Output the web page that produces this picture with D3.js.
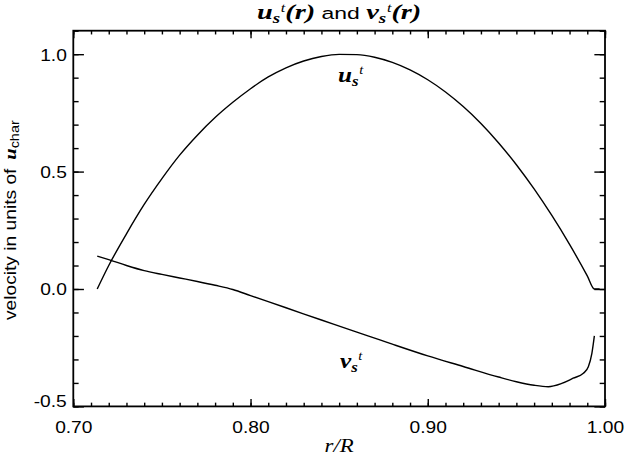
<!DOCTYPE html>
<html>
<head>
<meta charset="utf-8">
<script src="https://cdn.jsdelivr.net/npm/d3@7"></script>
<style>
    body { margin: 0; background: #ffffff; }
    svg { display: block; }
    .sans { font-family: "Liberation Sans", Arial, Helvetica, sans-serif; }
    .serif { font-family: "Liberation Serif", "Times New Roman", serif; }
</style>
</head>
<body>
<div id="plot"></div>
<script>
// radius (r/R) and u_s^t values
const rU = [0.7135, 0.72, 0.73, 0.74, 0.75, 0.76, 0.77, 0.78, 0.79, 0.80,
    0.81, 0.82, 0.83, 0.84, 0.85, 0.86, 0.87, 0.88, 0.89, 0.90,
    0.91, 0.92, 0.93, 0.94, 0.95, 0.96, 0.97, 0.98, 0.99, 0.994, 0.997];
const uVals = [0.00, 0.10, 0.235, 0.36, 0.47, 0.57, 0.655, 0.73, 0.795, 0.853,
    0.903, 0.942, 0.971, 0.990, 0.999, 0.998, 0.987, 0.965, 0.933, 0.891,
    0.839, 0.777, 0.705, 0.622, 0.529, 0.426, 0.313, 0.19, 0.056, 0.0, 0.0];

// radius (r/R) and v_s^t values
const rV = [0.7135, 0.72, 0.73, 0.74, 0.75, 0.76, 0.77, 0.78, 0.79, 0.80,
    0.82, 0.84, 0.86, 0.873, 0.88, 0.90, 0.92, 0.94, 0.95, 0.96,
    0.968, 0.9756, 0.982, 0.9878, 0.9906, 0.9926, 0.994];
const vVals = [0.14, 0.125, 0.10, 0.078, 0.062, 0.047, 0.032, 0.016, -0.002, -0.028,
    -0.08, -0.132, -0.184, -0.217, -0.235, -0.285, -0.33, -0.375, -0.395, -0.41,
    -0.416, -0.402, -0.38, -0.359, -0.331, -0.274, -0.20];

const xMajor = [0.70, 0.80, 0.90, 1.00];
const xTickLabels = ["0.70", "0.80", "0.90", "1.00"];
const yMajor = [-0.5, 0.0, 0.5, 1.0];
const yTickLabels = ["-0.5", "0.0", "0.5", "1.0"];

const width = 625;
const height = 457;
const plotLeft = 73.3, plotRight = 605, plotTop = 30.7, plotBottom = 406.4;
const stretch = 1.2; // PostScript fonts render wider than Liberation

const svg = d3.select("#plot")
    .append("svg")
    .attr("width", width)
    .attr("height", height);

const x = d3.scaleLinear().domain([0.70, 1.00]).range([plotLeft, plotRight]);
const y = d3.scaleLinear().domain([-0.5, 1.1]).range([plotBottom, plotTop]);

const xMinor = x.ticks(30);
const yMinor = y.ticks(16);

const xTickLen = 0.02 * (plotBottom - plotTop);
const yTickLen = 0.02 * (plotRight - plotLeft);

function styleAxis(g) {
    g.select(".domain").remove();
    g.selectAll("line").attr("stroke", "#000").attr("stroke-width", 1.4);
}

// bottom axis
svg.append("g")
    .attr("transform", `translate(0,${plotBottom})`)
    .call(d3.axisBottom(x).tickValues(xMinor).tickSize(-xTickLen / 2).tickFormat(""))
    .call(styleAxis);
svg.append("g")
    .attr("transform", `translate(0,${plotBottom})`)
    .call(d3.axisBottom(x).tickValues(xMajor).tickSize(-xTickLen)
        .tickFormat((d, i) => xTickLabels[i]))
    .call(styleAxis)
    .call(g => g.selectAll("text")
        .attr("class", "sans")
        .attr("fill", "#000")
        .attr("font-size", 16)
        .attr("y", 0)
        .attr("dy", 0)
        .attr("transform", `translate(0,27) scale(${stretch},1)`));

// top axis
svg.append("g")
    .attr("transform", `translate(0,${plotTop})`)
    .call(d3.axisTop(x).tickValues(xMinor).tickSize(-xTickLen / 2).tickFormat(""))
    .call(styleAxis);
svg.append("g")
    .attr("transform", `translate(0,${plotTop})`)
    .call(d3.axisTop(x).tickValues(xMajor).tickSize(-xTickLen).tickFormat(""))
    .call(styleAxis);

// left axis
svg.append("g")
    .attr("transform", `translate(${plotLeft},0)`)
    .call(d3.axisLeft(y).tickValues(yMinor).tickSize(-yTickLen / 2).tickFormat(""))
    .call(styleAxis);
svg.append("g")
    .attr("transform", `translate(${plotLeft},0)`)
    .call(d3.axisLeft(y).tickValues(yMajor).tickSize(-yTickLen)
        .tickFormat((d, i) => yTickLabels[i]))
    .call(styleAxis)
    .call(g => g.selectAll("text")
        .attr("class", "sans")
        .attr("fill", "#000")
        .attr("font-size", 16)
        .attr("x", 0)
        .attr("dy", 0)
        .attr("text-anchor", "end")
        // lowest label is lifted so it stays inside the frame
        .attr("transform", d => `translate(-6.5,${y(d) === plotBottom ? 0 : 6}) scale(${stretch},1)`));

// right axis
svg.append("g")
    .attr("transform", `translate(${plotRight},0)`)
    .call(d3.axisRight(y).tickValues(yMinor).tickSize(-yTickLen / 2).tickFormat(""))
    .call(styleAxis);
svg.append("g")
    .attr("transform", `translate(${plotRight},0)`)
    .call(d3.axisRight(y).tickValues(yMajor).tickSize(-yTickLen).tickFormat(""))
    .call(styleAxis);

// frame
svg.append("rect")
    .attr("x", plotLeft)
    .attr("y", plotTop)
    .attr("width", plotRight - plotLeft)
    .attr("height", plotBottom - plotTop)
    .attr("fill", "none")
    .attr("stroke", "#000")
    .attr("stroke-width", 1.8);

// curves
const line = d3.line()
    .x(d => x(d[0]))
    .y(d => y(d[1]))
    .curve(d3.curveMonotoneX);

svg.append("path")
    .datum(rU.map((r, i) => [r, uVals[i]]))
    .attr("d", line)
    .attr("fill", "none")
    .attr("stroke", "#000")
    .attr("stroke-width", 1.4);

svg.append("path")
    .datum(rV.map((r, i) => [r, vVals[i]]))
    .attr("d", line)
    .attr("fill", "none")
    .attr("stroke", "#000")
    .attr("stroke-width", 1.4);

// u_s^t style label: big bold-italic letter, subscript s, superscript t
function symbolSpans(t, letter, big, supDy) {
    t.append("tspan").attr("class", "serif").attr("font-weight", "bold")
        .attr("font-style", "italic").attr("font-size", big).text(letter);
    t.append("tspan").attr("class", "serif").attr("font-weight", "bold")
        .attr("font-style", "italic").attr("font-size", 14).attr("dy", 4).text("s");
    t.append("tspan").attr("class", "serif").attr("font-style", "italic")
        .attr("font-size", 12).attr("dx", 0.5).attr("dy", supDy).text("t");
}

function label(xPos, yPos, letter) {
    const t = svg.append("text")
        .attr("transform", `translate(${xPos},${yPos}) scale(${stretch},1)`)
        .attr("fill", "#000");
    symbolSpans(t, letter, 21, -12);
}

label(338, 82, "u");
label(340, 368, "v");

// title
const title = svg.append("text")
    .attr("transform", `translate(${(plotLeft + plotRight) / 2},18.5) scale(1.35,1)`)
    .attr("text-anchor", "middle")
    .attr("fill", "#000");
symbolSpans(title, "u", 21, -11);
title.append("tspan").attr("class", "serif").attr("font-weight", "bold")
    .attr("font-style", "italic").attr("font-size", 21).attr("dy", 7).text("(r)");
title.append("tspan").attr("class", "sans").attr("font-size", 17).text(" and ");
symbolSpans(title, "v", 21, -11);
title.append("tspan").attr("class", "serif").attr("font-weight", "bold")
    .attr("font-style", "italic").attr("font-size", 21).attr("dy", 7).text("(r)");

// x axis title
svg.append("text")
    .attr("transform", `translate(${(plotLeft + plotRight) / 2},452) scale(${stretch},1)`)
    .attr("text-anchor", "middle")
    .attr("class", "serif")
    .attr("font-style", "italic")
    .attr("font-size", 19)
    .attr("fill", "#000")
    .text("r/R");

// y axis title
const yTitle = svg.append("text")
    .attr("transform", `translate(15.5,320) rotate(-90) scale(${stretch},1)`)
    .attr("fill", "#000");
yTitle.append("tspan").attr("class", "sans").attr("font-size", 16)
    .text("velocity in units of ");
yTitle.append("tspan").attr("class", "serif").attr("font-weight", "bold")
    .attr("font-style", "italic").attr("font-size", 17).attr("dx", 3).text("u");
yTitle.append("tspan").attr("class", "sans").attr("font-size", 12)
    .attr("dy", 3).text("char");
</script>
</body>
</html>
